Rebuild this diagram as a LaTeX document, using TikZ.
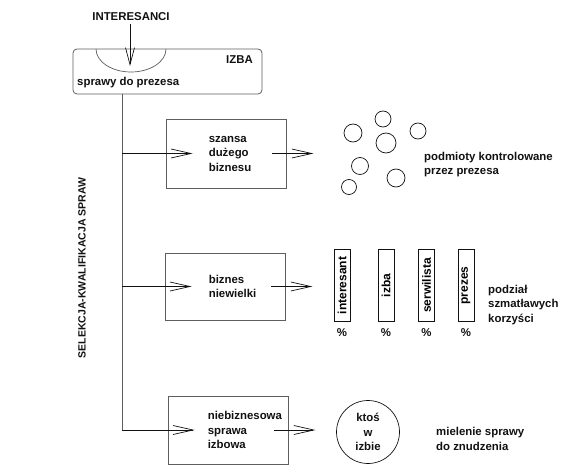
\documentclass[tikz,border=0pt]{standalone}
\usepackage{fontspec}
\setmainfont{Liberation Sans}
\usepackage{tikz}
\usetikzlibrary{arrows.meta,positioning,calc}
\definecolor{cInk}{HTML}{111111}
\definecolor{cGray}{HTML}{5E5E5E}
\tikzset{
  txt/.style={font=\fontsize{11.4}{14.5}\selectfont\bfseries,text=cInk,align=left,inner sep=0pt},
  sbox/.style={draw=cGray,line width=0.8pt,minimum width=120pt,minimum height=#1,inner sep=0pt},
  sbox/.default=68pt,
  bar/.style={draw=cInk,line width=0.8pt,rotate=90,minimum width=72pt,minimum height=16pt,inner sep=0pt,
    font=\fontsize{12}{13}\selectfont\bfseries},
  ball/.style={draw=cInk,line width=0.7pt,circle,minimum size=#1,inner sep=0pt},
  ball/.default=17pt,
  arr/.style={-{Straight Barb[length=#1,width=9pt]},line width=0.7pt,color=cInk},
  arr/.default=20pt,
  trunk/.style={line width=0.8pt,color=cGray},
}

\begin{document}
\begin{tikzpicture}[x=1pt,y=1pt]
  \useasboundingbox (0,0) rectangle (570,-468);
  % chamber at the top
  \node[txt] (inter) at (131,-17) {INTERESANCI};
  \node[draw=cGray,line width=0.8pt,rounded corners=4pt,minimum width=189pt,minimum height=45pt] (izba) at (167.5,-71.5) {};
  \draw[line width=0.7pt,color=cGray] (96,-49) arc[start angle=180,end angle=360,x radius=35,y radius=23];
  \draw[arr=17pt] (inter.south -| 130,0) ++(0,-3) -- (130,-66);
  \node[txt,anchor=east] (izbalbl) at (253,-60) {IZBA};
  \node[txt,anchor=west] (sprawy) at (77,-83) {sprawy do prezesa};
  \node[txt,rotate=90,font=\fontsize{10.5}{13}\selectfont\bfseries] (selekcja) at (82,-268) {SELEKCJA-KWALIFIKACJA SPRAW};

  % three kinds of cases
  \node[sbox=69pt] (szansa) at (226,-153.5) {};
  \node[sbox=67pt] (niewielki) at (225,-286.5) {};
  \node[sbox=68pt] (izbowa) at (228,-430) {};
  \node[txt,anchor=west] at ($(szansa.west)+(43,0)$) {szansa\\dużego\\biznesu};
  \node[txt,anchor=west] at ($(niewielki.west)+(44,0)$) {biznes\\niewielki};
  \node[txt,anchor=west] at ($(izbowa.west)+(40,0)$) {niebiznesowa\\sprawa\\izbowa};

  \coordinate (t0) at (122,-94);
  \coordinate (t3) at (122,-430);
  \draw[trunk] (t0) -- (t3);
  \foreach \b in {szansa,niewielki,izbowa}{
    \draw[arr] (\b.west -| t0) -- ($(\b.west)+(27,0)$);
    \draw[arr] ($(\b.east)+(-14,0)$) -- ($(\b.east)+(27,0)$);
  }

  % controlled entities
  \node[ball=18pt] (c1) at (353,-133) {};
  \node[ball=16pt] (c2) at (383,-119) {};
  \node[ball=20pt] (c3) at (386,-143) {};
  \node[ball=16pt] (c4) at (418,-131) {};
  \node[ball=17pt] (c5) at (360,-166) {};
  \node[ball=18pt] (c6) at (396,-178) {};
  \node[ball=15pt] (c7) at (349,-187) {};
  \node[txt,anchor=west] (podmioty) at (424,-164.5) {podmioty kontrolowane\\przez prezesa};

  % split of the profits
  \node[bar] (b1) at (342,-285.5) {interesant};
  \node[bar] (b2) at (386,-285.5) {izba};
  \node[bar] (b3) at (426.5,-285.5) {serwilista};
  \node[bar] (b4) at (466,-285.5) {prezes};
  \foreach \b in {b1,b2,b3,b4}
    \node[txt,anchor=north] at ($(\b.west)+(0,-6)$) {\%};
  \node[txt,anchor=west] (podzial) at (488,-305) {podział\\szmatławych\\korzyści};

  % someone in the chamber
  \node[ball=63pt,txt,align=center,draw=cInk] (ktos) at (368,-432) {ktoś\\w\\izbie};
  \node[txt,anchor=west] (mielenie) at (436,-439) {mielenie sprawy\\do znudzenia};
\end{tikzpicture}
\end{document}
